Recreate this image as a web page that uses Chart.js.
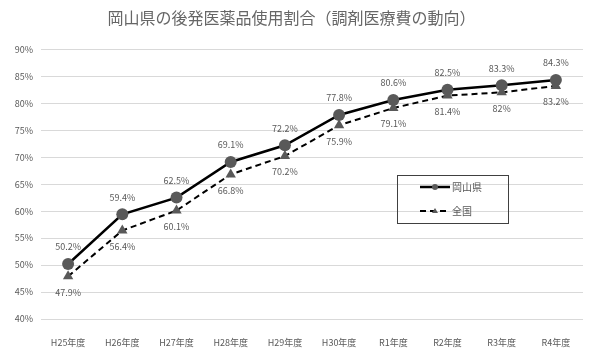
<!DOCTYPE html>
<html><head><meta charset="utf-8">
<script src="https://cdn.jsdelivr.net/npm/chart.js@4"></script>
<style>html,body{margin:0;padding:0;background:#fff}canvas{display:block}</style>
</head><body>
<canvas id="c" width="600" height="356"></canvas>
<script>
const categories = ["H25年度","H26年度","H27年度","H28年度","H29年度","H30年度","R1年度","R2年度","R3年度","R4年度"];
const okayama = [50.2,59.4,62.5,69.1,72.2,77.8,80.6,82.5,83.3,84.3];
const national = [47.9,56.4,60.1,66.8,70.2,75.9,79.1,81.4,82,83.2];
const seriesNames = ["岡山県","全国"];
const titleText = "岡山県の後発医薬品使用割合（調剤医療費の動向）";
const FONT = "'Noto Sans CJK JP','Noto Sans',sans-serif";
const GREY = "#595959";

const labelPlugin = {
  id:'valueLabels',
  afterDatasetsDraw(chart){
    const ctx = chart.ctx;
    ctx.save();
    ctx.font = "9px " + FONT;
    ctx.fillStyle = GREY;
    ctx.textAlign = 'center';
    ctx.textBaseline = 'middle';
    chart.data.datasets.forEach((ds,i)=>{
      const meta = chart.getDatasetMeta(i);
      meta.data.forEach((pt,j)=>{
        const dy = i===0 ? -17 : 16;
        ctx.fillText(ds.data[j] + '%', pt.x, pt.y + dy);
      });
    });
    ctx.restore();
  }
};

const legendPlugin = {
  id:'boxLegend',
  afterDraw(chart){
    const ctx = chart.ctx;
    const x0 = 397, y0 = 175, w = 111, h = 48;
    ctx.save();
    ctx.strokeStyle = '#404040';
    ctx.lineWidth = 1;
    ctx.strokeRect(x0+0.5, y0+0.5, w, h);
    chart.data.datasets.forEach((ds,i)=>{
      const y = y0 + 12 + i*24;
      ctx.strokeStyle = ds.borderColor;
      ctx.lineWidth = ds.borderWidth;
      ctx.setLineDash(ds.borderDash || []);
      ctx.beginPath(); ctx.moveTo(x0+23, y); ctx.lineTo(x0+53, y); ctx.stroke();
      ctx.setLineDash([]);
      ctx.fillStyle = ds.pointBackgroundColor;
      ctx.beginPath();
      if (i===0) { ctx.arc(x0+38, y, 3, 0, Math.PI*2); }
      else { ctx.moveTo(x0+38, y-3); ctx.lineTo(x0+41, y+2); ctx.lineTo(x0+35, y+2); ctx.closePath(); }
      ctx.fill();
      ctx.fillStyle = GREY;
      ctx.font = "10px " + FONT;
      ctx.textAlign = 'left'; ctx.textBaseline = 'middle';
      ctx.fillText(ds.label, x0+55, y);
    });
    ctx.restore();
  }
};

new Chart(document.getElementById('c'), {
  type:'line',
  data:{
    labels: categories,
    datasets:[
      {label:seriesNames[0], data:okayama, borderColor:'#000', borderWidth:2.5,
       pointStyle:'circle', pointRadius:6, pointBackgroundColor:GREY, pointBorderColor:GREY, pointBorderWidth:0, tension:0},
      {label:seriesNames[1], data:national, borderColor:'#000', borderWidth:2, borderDash:[6,4],
       pointStyle:'triangle', pointRadius:6, pointBackgroundColor:GREY, pointBorderColor:GREY, pointBorderWidth:0, tension:0}
    ]
  },
  options:{
    responsive:false, animation:false,
    layout:{padding:{left:0,right:17,top:0,bottom:0}},
    plugins:{
      legend:{display:false},
      tooltip:{enabled:false},
      title:{display:true, text:titleText, color:'#666666', font:{family:FONT,size:16,weight:'normal'}, padding:{top:8,bottom:22}}
    },
    scales:{
      x:{
        offset:true,
        grid:{display:false},
        border:{display:false},
        ticks:{color:GREY, font:{family:FONT,size:9}, padding:10, maxRotation:0},
        afterFit(s){ s.height = 37; }
      },
      y:{
        min:40, max:90,
        grid:{color:'#d9d9d9', drawTicks:false},
        border:{display:false},
        ticks:{stepSize:5, color:GREY, font:{family:FONT,size:9}, padding:8, callback:v=>v+'%'},
        afterFit(s){ s.width = 41; }
      }
    }
  },
  plugins:[labelPlugin, legendPlugin]
});
</script>
</body></html>
